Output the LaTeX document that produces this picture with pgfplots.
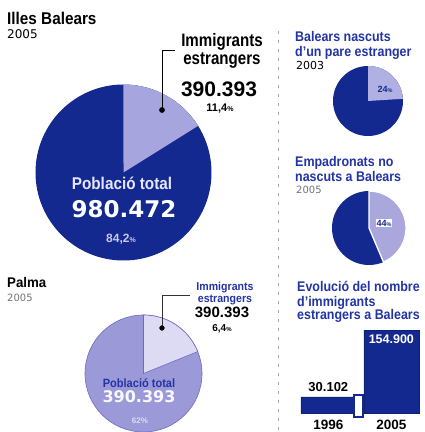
\documentclass[border=0pt]{standalone}
\usepackage{graphicx}
\usepackage{fontspec}
\setmainfont{Liberation Sans}
\newfontfamily\dvs{DejaVu Sans}
\usepackage{pgfplots}
\pgfplotsset{compat=1.18}
\definecolor{navy}{HTML}{14298F}
\definecolor{lav}{HTML}{A7A5DD}
\definecolor{palmain}{HTML}{9B99D8}
\definecolor{pallight}{HTML}{DCDBF3}
\definecolor{paledge}{HTML}{6D6BBD}
\definecolor{sonelight}{HTML}{B0B0E2}
\definecolor{stwolight}{HTML}{AAA7DD}
\definecolor{tblue}{HTML}{2334A3}
\newcommand\fs[1]{\fontsize{#1}{#1}\selectfont}
\newcommand\cb[3]{{\fs{#1}\scalebox{#2}[1]{\bfseries #3}}}
\pgfplotsset{pie/.style={hide axis, scale only axis, anchor=center,
  xmin=-1,xmax=1,ymin=-1,ymax=1, clip=false}}
\begin{document}
\begin{tikzpicture}
\useasboundingbox (0,0) rectangle (424pt,432pt);
% separator
\draw[gray!70, line width=1pt, dash pattern=on 2.5pt off 6.5pt] (278pt,2pt) -- (278pt,402pt);

% ---------- Illes Balears big pie ----------
\begin{axis}[pie, at={(123.5pt,259.5pt)}, width=176pt, height=176pt]
\addplot[fill=navy, draw=none] coordinates {(1,0)} arc[start angle=0, end angle=360, radius=88pt] -- cycle;
\addplot[fill=lav, draw=none] coordinates {(0,0) (0.848,0.530)} arc[start angle=32, end angle=90, radius=88pt] -- cycle;
\addplot[black, line width=0.6pt] coordinates {(0.4375,0.71) (0.4375,1.392) (0.585,1.392)};
\addplot[only marks, mark=*, mark size=2.6pt, black] coordinates {(0.4375,0.71)};
\end{axis}
\node[anchor=base west, inner sep=0] at (7pt,407pt) {\cb{17}{0.9}{Illes Balears}};
\node[anchor=base west, inner sep=0] at (7pt,393pt) {\dvs\fs{12}2005};
\node[anchor=base, inner sep=0] at (222pt,385pt) {\cb{18}{0.84}{Immigrants}};
\node[anchor=base, inner sep=0] at (222pt,367pt) {\cb{18}{0.84}{estrangers}};
\node[anchor=base, inner sep=0] at (219pt,335pt) {\fs{21}\bfseries 390.393};
\node[anchor=base, inner sep=0] at (220pt,320pt) {\fs{11}\bfseries 11,4{\fs{7}\%}};
\node[anchor=base, inner sep=0, text=black!5!blue!10!white] at (122pt,242pt) {\cb{17}{0.9}{Població total}};
\node[anchor=base, inner sep=0, text=white] at (124pt,214pt) {\dvs\fs{23}\bfseries 980.472};
\node[anchor=base, inner sep=0, text=lav!60!white] at (121pt,189pt) {\fs{12}\bfseries 84,2{\fs{7}\%}};

% ---------- Palma pie ----------
\begin{axis}[pie, at={(143.5pt,58.5pt)}, width=117pt, height=117pt]
\addplot[fill=palmain, draw=paledge, line width=0.6pt] coordinates {(1,0)} arc[start angle=0, end angle=360, radius=58.5pt] -- cycle;
\addplot[fill=pallight, draw=paledge, line width=0.6pt] coordinates {(0,0) (0.927,0.375)} arc[start angle=22, end angle=90, radius=58.5pt] -- cycle;
\addplot[black!80, line width=0.6pt] coordinates {(0.316,0.778) (0.316,1.342) (0.795,1.342)};
\addplot[only marks, mark=*, mark size=2.4pt, black] coordinates {(0.316,0.778)};
\end{axis}
\node[anchor=base west, inner sep=0] at (7pt,144pt) {\cb{14}{0.95}{Palma}};
\node[anchor=base west, inner sep=0, text=black!55] at (7pt,130pt) {\dvs\fs{10}2005};
\node[anchor=base, inner sep=0, text=tblue] at (225pt,141pt) {\cb{11.5}{0.92}{Immigrants}};
\node[anchor=base, inner sep=0, text=tblue] at (225pt,129pt) {\cb{11.5}{0.92}{estrangers}};
\node[anchor=base, inner sep=0] at (222pt,114pt) {\fs{15}\bfseries 390.393};
\node[anchor=base, inner sep=0] at (222pt,100pt) {\fs{10}\bfseries 6,4{\fs{6}\%}};
\node[anchor=base, inner sep=0, text=tblue] at (139pt,45pt) {\cb{12}{0.92}{Població total}};
\node[anchor=base, inner sep=0, text=white!92!palmain] at (139pt,29pt) {\dvs\fs{16}\bfseries 390.393};
\node[anchor=base, inner sep=0, text=pallight] at (140pt,9pt) {\fs{8}\bfseries 62\%};

% ---------- Balears nascuts d'un pare estranger ----------
\begin{axis}[pie, at={(368pt,331pt)}, width=70pt, height=70pt]
\addplot[fill=navy, draw=none] coordinates {(1,0)} arc[start angle=0, end angle=360, radius=35pt] -- cycle;
\addplot[fill=sonelight, draw=none] coordinates {(0,0) (0.998,0.063)} arc[start angle=3.6, end angle=90, radius=35pt] -- cycle;
\end{axis}
\node[anchor=base west, inner sep=0, text=tblue] at (295pt,390pt) {\cb{14}{0.89}{Balears nascuts}};
\node[anchor=base west, inner sep=0, text=tblue] at (295pt,375pt) {\cb{14}{0.89}{d'un pare estranger}};
\node[anchor=base west, inner sep=0] at (296pt,362pt) {\dvs\fs{11}2003};
\node[anchor=base, inner sep=0, text=navy] at (385pt,339pt) {\fs{9}\bfseries 24{\fs{5.5}\%}};

% ---------- Empadronats no nascuts a Balears ----------
\begin{axis}[pie, at={(369pt,204pt)}, width=74pt, height=74pt]
\addplot[fill=navy, draw=none] coordinates {(1,0)} arc[start angle=0, end angle=360, radius=37pt] -- cycle;
\addplot[fill=stwolight, draw=white, line width=1.3pt] coordinates {(0,0) (0.391,-0.921)} arc[start angle=-67, end angle=90, radius=37pt] -- cycle;
\end{axis}
\node[anchor=base west, inner sep=0, text=tblue] at (295pt,265pt) {\cb{14}{0.89}{Empadronats no}};
\node[anchor=base west, inner sep=0, text=tblue] at (295pt,250pt) {\cb{14}{0.89}{nascuts a Balears}};
\node[anchor=base west, inner sep=0, text=black!55] at (296pt,238pt) {\dvs\fs{10}2005};
\node[anchor=center, fill=white, inner sep=1pt, text=navy] at (384pt,209pt) {\fs{9}\bfseries 44{\fs{5.5}\%}};

% ---------- Evolucio bar chart ----------
\node[anchor=base west, inner sep=0, text=tblue] at (297pt,140pt) {\cb{14}{0.89}{Evolució del nombre}};
\node[anchor=base west, inner sep=0, text=tblue] at (297pt,125pt) {\cb{14}{0.89}{d'immigrants}};
\node[anchor=base west, inner sep=0, text=tblue] at (297pt,112pt) {\cb{14}{0.89}{estrangers a Balears}};
\begin{axis}[at={(300pt,19pt)}, anchor=south west, scale only axis,
  width=119.7pt, height=83pt, xmin=-0.45, xmax=1.45, ymin=0, ymax=154900,
  hide axis, clip=false, ybar, bar width=55pt]
\addplot[fill=navy, draw=navy!80!black, line width=0.6pt] coordinates {(0,30102) (1,154900)};
\node[anchor=base, inner sep=0] at (axis cs:0,30102) [yshift=5pt] {\fs{13}\bfseries 30.102};
\node[anchor=base, inner sep=0, text=white] at (axis cs:1,154900) [yshift=-13pt] {\fs{12.5}\bfseries 154.900};
\node[anchor=base, inner sep=0] at (axis cs:0,0) [yshift=-16.5pt] {\fs{13.5}\bfseries 1996};
\node[anchor=base, inner sep=0] at (axis cs:1,0) [yshift=-16.5pt] {\fs{13.5}\bfseries 2005};
\end{axis}
\draw[navy, fill=white, line width=1.2pt] (354pt,15pt) rectangle (363pt,37pt);
\end{tikzpicture}
\end{document}
